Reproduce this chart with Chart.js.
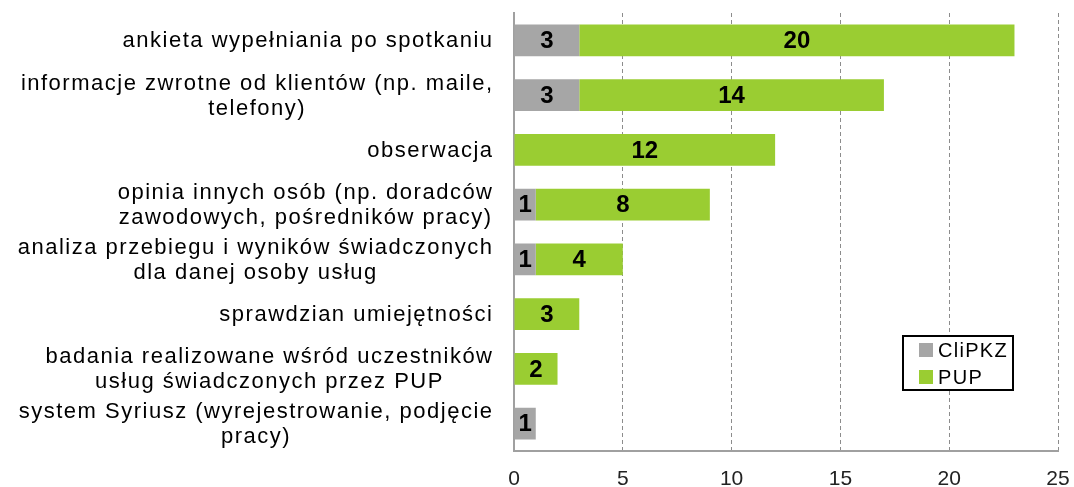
<!DOCTYPE html>
<html><head><meta charset="utf-8">
<script src="https://cdn.jsdelivr.net/npm/chart.js@4.4.0/dist/chart.umd.min.js"></script>
<style>html,body{margin:0;padding:0;background:#fff;overflow:hidden}#wrap{width:1074px;height:487px;position:relative}</style>
</head><body><div id="wrap"><canvas id="c" width="1074" height="487"></canvas></div>
<script>
const categories = [
  ["ankieta wypełniania po spotkaniu"],
  ["informacje zwrotne od klientów (np. maile,", "telefony)"],
  ["obserwacja"],
  ["opinia innych osób (np. doradców", "zawodowych, pośredników pracy)"],
  ["analiza przebiegu i wyników świadczonych", "dla danej osoby usług"],
  ["sprawdzian umiejętności"],
  ["badania realizowane wśród uczestników", "usług świadczonych przez PUP"],
  ["system Syriusz (wyrejestrowanie, podjęcie", "pracy)"]
];
const seriesNames = ["CliPKZ", "PUP"];
const clipkzValues = [3, 3, 0, 1, 1, 0, 0, 1];
const pupValues = [20, 14, 12, 8, 4, 3, 2, 0];
const xMin = 0, xMax = 25, xStep = 5;

const FONT = "'Liberation Sans', Arial, sans-serif";
const colors = ["#A6A6A6", "#9ACD32"];

const yLabelPlugin = {
  id: 'yLabels',
  afterDraw(chart) {
    const ctx = chart.ctx, ys = chart.scales.y, area = chart.chartArea;
    ctx.save();
    ctx.font = "22px " + FONT;
    const sp = 1.5;
    ctx.letterSpacing = sp + "px";
    ctx.fillStyle = "#000";
    ctx.textBaseline = "middle";
    ctx.textAlign = "left";
    const lh = 25;
    const right = area.left - 22;
    categories.forEach((lines, i) => {
      const yc = ys.getPixelForTick(i);
      const ws = lines.map(l => ctx.measureText(l).width - sp);
      const W = Math.max(...ws);
      const cx = right - W / 2;
      const y0 = yc - (lines.length - 1) * lh / 2;
      lines.forEach((l, j) => ctx.fillText(l, cx - ws[j] / 2, y0 + j * lh + 1));
    });
    ctx.restore();
  }
};

const valueLabelPlugin = {
  id: 'valueLabels',
  afterDatasetsDraw(chart) {
    const ctx = chart.ctx;
    ctx.save();
    ctx.font = "bold 24px " + FONT;
    ctx.fillStyle = "#000";
    ctx.textAlign = "center";
    ctx.textBaseline = "middle";
    chart.data.datasets.forEach((ds, di) => {
      const meta = chart.getDatasetMeta(di);
      meta.data.forEach((el, i) => {
        const v = ds.data[i];
        if (!v) return;
        ctx.fillText(String(v), (el.x + el.base) / 2, el.y + 1);
      });
    });
    ctx.restore();
  }
};

const legendPlugin = {
  id: 'boxLegend',
  afterDraw(chart) {
    const ctx = chart.ctx;
    const x = 903, y = 336, w = 110, h = 54;
    ctx.save();
    ctx.fillStyle = "#fff";
    ctx.fillRect(x, y, w, h);
    ctx.strokeStyle = "#000";
    ctx.lineWidth = 2;
    ctx.strokeRect(x, y, w, h);
    ctx.font = "20px " + FONT;
    ctx.letterSpacing = "1.3px";
    ctx.textBaseline = "middle";
    ctx.textAlign = "left";
    chart.data.datasets.forEach((ds, i) => {
      const cy = y + 14 + i * 27;
      ctx.fillStyle = ds.backgroundColor;
      ctx.fillRect(x + 16, cy - 7, 14, 14);
      ctx.fillStyle = "#000";
      ctx.fillText(ds.label, x + 35, cy + 1);
    });
    ctx.restore();
  }
};

new Chart(document.getElementById('c'), {
  type: 'bar',
  data: {
    labels: categories,
    datasets: [
      { label: seriesNames[0], data: clipkzValues, backgroundColor: colors[0], borderWidth: 0, barPercentage: 0.58, categoryPercentage: 1 },
      { label: seriesNames[1], data: pupValues, backgroundColor: colors[1], borderWidth: 0, barPercentage: 0.58, categoryPercentage: 1 }
    ]
  },
  options: {
    indexAxis: 'y',
    responsive: false,
    animation: false,
    devicePixelRatio: 1,
    layout: { padding: { left: 0, right: 16, top: 13, bottom: 0 } },
    plugins: { legend: { display: false }, tooltip: { enabled: false } },
    scales: {
      x: {
        stacked: true, min: xMin, max: xMax,
        ticks: { stepSize: xStep, color: '#222', font: { family: FONT, size: 21 }, padding: 16 },
        grid: { color: '#8c8c8c', lineWidth: 1, drawTicks: false },
        border: { display: true, color: '#a0a0a0', width: 2, dash: [4, 3] },
        afterFit(s) { s.height = 36; s.paddingLeft = 0; s.paddingRight = 0; }
      },
      y: {
        stacked: true,
        ticks: { display: false },
        grid: { display: false, drawTicks: false },
        border: { display: true, color: '#a0a0a0', width: 2 },
        afterFit(s) { s.width = 514; }
      }
    }
  },
  plugins: [yLabelPlugin, valueLabelPlugin, legendPlugin]
});
</script>
</body></html>
